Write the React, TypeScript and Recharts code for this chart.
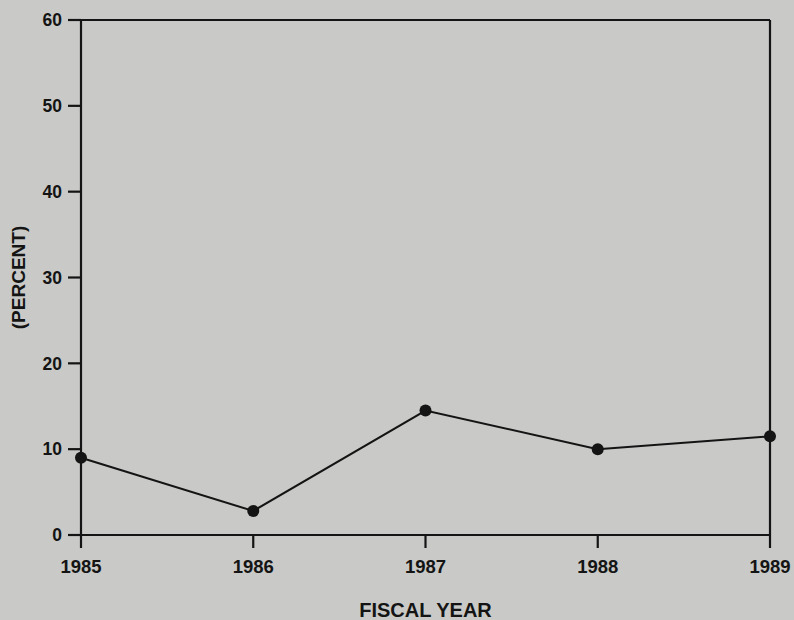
import { LineChart, Line, XAxis, YAxis, ReferenceLine } from "recharts";

const years = ["1985", "1986", "1987", "1988", "1989"];
const percent = [9.0, 2.8, 14.5, 10.0, 11.5];
const yTicks = [0, 10, 20, 30, 40, 50, 60];

const data = years.map((year, i) => ({ year, value: percent[i] }));

const ink = "#141414";
const font = "'Liberation Sans', Arial, sans-serif";

export default function App() {
  return (
    <div
      style={{
        position: "fixed",
        top: 0,
        left: 0,
        width: 794,
        height: 620,
        background: "#c9cac7",
        fontFamily: font,
      }}
    >
      <LineChart
        width={794}
        height={620}
        data={data}
        margin={{ top: 20, right: 24, left: 0, bottom: 0 }}
      >
        <XAxis
          dataKey="year"
          height={85}
          stroke={ink}
          strokeWidth={2.2}
          tickSize={13}
          tickMargin={12}
          tick={{ fill: ink, fontSize: 18.5, fontWeight: 700, fontFamily: font }}
          label={{
            value: "FISCAL YEAR",
            position: "insideBottom",
            offset: 3,
            fill: ink,
            fontSize: 20,
            fontWeight: 700,
            fontFamily: font,
          }}
        />
        <YAxis
          domain={[0, 60]}
          ticks={yTicks}
          width={81}
          stroke={ink}
          strokeWidth={2.2}
          tickSize={13}
          tickMargin={6}
          tick={{ fill: ink, fontSize: 17.5, fontWeight: 700, fontFamily: font }}
          label={{
            value: "(PERCENT)",
            angle: -90,
            position: "insideLeft",
            offset: 18,
            fill: ink,
            fontSize: 19,
            fontWeight: 700,
            fontFamily: font,
            style: { textAnchor: "middle" },
          }}
        />
        <ReferenceLine y={60} stroke={ink} strokeWidth={2.2} />
        <ReferenceLine x="1989" stroke={ink} strokeWidth={2.2} />
        <Line
          dataKey="value"
          stroke={ink}
          strokeWidth={2}
          dot={{ r: 6, fill: ink, stroke: ink, strokeWidth: 0 }}
          isAnimationActive={false}
        />
      </LineChart>
    </div>
  );
}
